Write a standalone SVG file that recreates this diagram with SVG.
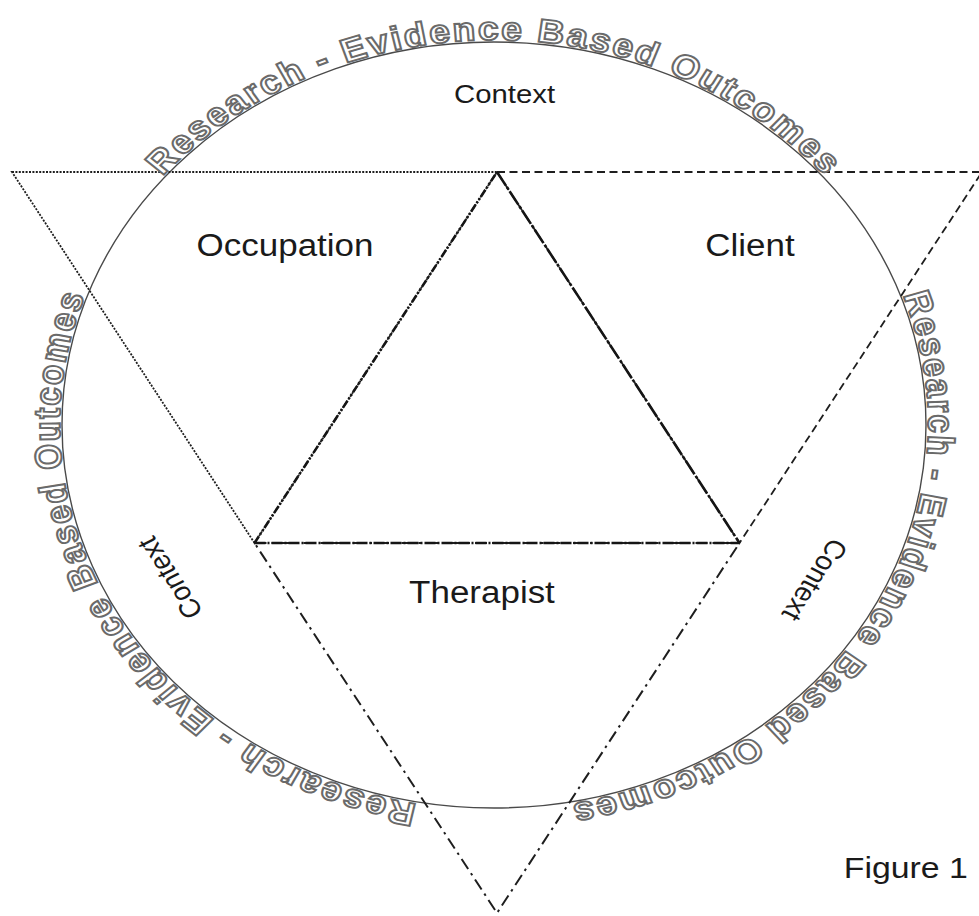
<svg xmlns="http://www.w3.org/2000/svg" width="979" height="916" viewBox="0 0 979 916">
  <style>
    .ring { fill: none; stroke: #4a4a4a; stroke-width: 1.4; }
    .edge { fill: none; stroke: #1e1e1e; stroke-linejoin: miter; }
    .dotted { stroke-width: 1.8; stroke-dasharray: 2 1.4; }
    .dashed { stroke-width: 1.8; stroke-dasharray: 8 4.5; }
    .dashdot { stroke-width: 2; stroke-dasharray: 12 5 2.5 5; }
    .inner { stroke-width: 2.6; stroke: #151515; }
    .arc-text { font-family: "Liberation Sans", Arial, sans-serif; font-weight: bold; font-size: 33px; letter-spacing: 2px; fill: #ffffff; stroke: #6a6a6a; stroke-width: 1.9; }
    .label { font-family: "Liberation Sans", Arial, sans-serif; font-size: 31px; fill: #1a1a1a; text-anchor: middle; }
    .ctx { font-size: 26px; }
  </style>
  <defs>
    <!-- circle (in the unstretched frame) for the outlined ring text, clockwise from the bottom -->
    <path id="ringPath" d="M 437.94 810 A 385 385 0 1 1 437.94 40 A 385 385 0 1 1 437.94 810"/>
  </defs>

  <rect width="979" height="916" fill="#ffffff"/>

  <!-- outer ring -->
  <g id="ring">
    <ellipse class="ring" cx="494" cy="425" rx="432" ry="383"/>
  </g>

  <!-- triangles -->
  <g id="connectors">
    <path id="occupation-triangle" class="edge dotted" d="M 12 172 H 497 L 254.5 543 Z"/>
    <path id="client-triangle" class="edge dashed" d="M 497 172 H 982 L 739.5 543 Z"/>
    <path id="therapist-triangle" class="edge dashdot" d="M 254.5 543 H 739.5 L 497 913 Z"/>
    <g id="inner-triangle">
      <line class="edge inner" x1="254.5" y1="543" x2="497" y2="172" stroke-dasharray="8 2 2 2 2 2"/>
      <line class="edge inner" x1="497" y1="172" x2="739.5" y2="543" stroke-dasharray="16 2 3 2"/>
      <line class="edge inner" x1="254.5" y1="543" x2="739.5" y2="543" stroke-dasharray="11 2 2 2"/>
    </g>
  </g>

  <!-- everything below is laid out on a circle and stretched horizontally -->
  <g transform="matrix(1.128 0 0 1 0 0)">
    <g id="ring-text">
      <text class="arc-text"><textPath href="#ringPath" startOffset="1209.5" text-anchor="middle">Research - Evidence Based Outcomes</textPath></text>
      <text class="arc-text"><textPath href="#ringPath" startOffset="2015.8" text-anchor="middle">Research - Evidence Based Outcomes</textPath></text>
      <text class="arc-text"><textPath href="#ringPath" startOffset="403.2" text-anchor="middle">Research - Evidence Based Outcomes</textPath></text>
    </g>

    <g id="context-top">
      <text class="label ctx" x="447.3" y="103">Context</text>
    </g>
    <g id="context-left">
      <text class="label ctx" dominant-baseline="central" transform="translate(150.7 578) rotate(-120)">Context</text>
    </g>
    <g id="context-right">
      <text class="label ctx" dominant-baseline="central" transform="translate(722.5 580) rotate(120)">Context</text>
    </g>

    <g id="occupation">
      <text class="label" x="252.7" y="256">Occupation</text>
    </g>
    <g id="client">
      <text class="label" x="664.9" y="256">Client</text>
    </g>
    <g id="therapist">
      <text class="label" x="427.3" y="603">Therapist</text>
    </g>

    <g id="caption">
      <text class="label" x="803" y="878" style="font-size:30px">Figure 1</text>
    </g>
  </g>
</svg>
